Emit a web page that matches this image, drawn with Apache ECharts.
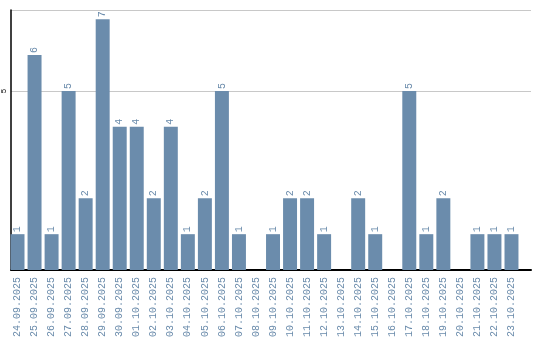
<!DOCTYPE html>
<html><head><meta charset="utf-8">
<script src="https://cdn.jsdelivr.net/npm/echarts@6/dist/echarts.min.js"></script>
<style>html,body{margin:0;padding:0;background:#fff}#c{width:540px;height:340px}</style>
</head><body><div id="c"></div>
<script>
const categories = ["24.09.2025","25.09.2025","26.09.2025","27.09.2025","28.09.2025","29.09.2025","30.09.2025","01.10.2025","02.10.2025","03.10.2025","04.10.2025","05.10.2025","06.10.2025","07.10.2025","08.10.2025","09.10.2025","10.10.2025","11.10.2025","12.10.2025","13.10.2025","14.10.2025","15.10.2025","16.10.2025","17.10.2025","18.10.2025","19.10.2025","20.10.2025","21.10.2025","22.10.2025","23.10.2025"];
const values = [1,6,1,5,2,7,4,4,2,4,1,2,5,1,0,1,2,2,1,0,2,1,0,5,1,2,0,1,1,1];
const yMax = 7.26;
const chart = echarts.init(document.getElementById('c'));
chart.setOption({
  animation:false,
  grid:[
    {left:10,right:9,top:10,bottom:70,containLabel:false},
    {left:9,right:20,top:10,bottom:70,containLabel:false}
  ],
  xAxis:[
    {type:'value',gridIndex:0,min:0,max:1,
      axisLine:{show:true,lineStyle:{color:'#000',width:2}},
      axisTick:{show:false},axisLabel:{show:false},splitLine:{show:false}},
    {type:'category',gridIndex:1,data:categories,
      axisLine:{show:false},
      axisTick:{show:false},
      axisLabel:{rotate:90,interval:0,color:'#6a8bab',fontFamily:'Liberation Mono',fontSize:10,margin:7}}
  ],
  yAxis:[
    {type:'value',gridIndex:0,min:0,max:yMax,interval:5,
      axisLine:{show:true,lineStyle:{color:'#000',width:1.5}},
      axisTick:{show:false},
      splitLine:{lineStyle:{color:'#c8c8c8',width:1}},
      axisLabel:{rotate:90,showMinLabel:false,showMaxLabel:false,color:'#000',fontSize:8,margin:3,formatter:v=>v===5?'5':''}},
    {type:'value',gridIndex:1,min:0,max:yMax,interval:5,
      axisLine:{show:false},axisTick:{show:false},axisLabel:{show:false},splitLine:{show:false}}
  ],
  series:[{type:'bar',xAxisIndex:1,yAxisIndex:1,data:values.map(v=>v===0?null:v),barCategoryGap:'18%',
    itemStyle:{color:'#6b8cac'},
    label:{show:true,position:'top',rotate:90,align:'left',verticalAlign:'middle',distance:2,
      color:'#6a8bab',fontFamily:'Liberation Mono',fontSize:10}}]
});
</script></body></html>
